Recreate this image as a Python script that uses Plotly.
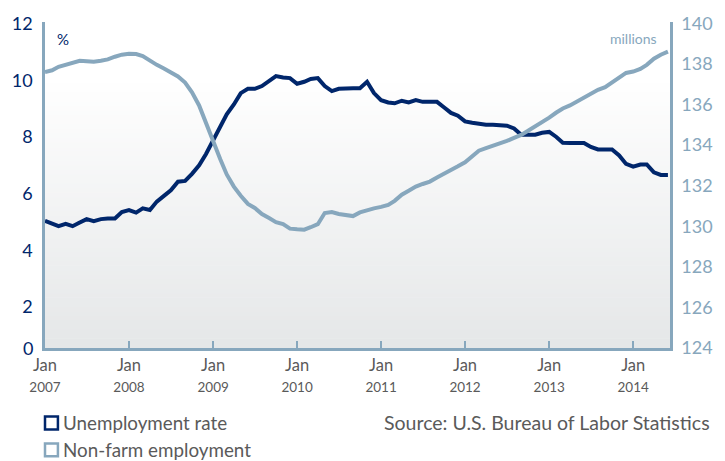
import pandas as pd
import plotly.graph_objects as go

# ---------------- data ----------------
months = pd.date_range("2007-01-01", periods=90, freq="MS")

unemployment_rate = [
    5.04, 4.95, 4.85, 4.93, 4.85, 4.98, 5.10, 5.03, 5.10, 5.12,
    5.12, 5.35, 5.42, 5.33, 5.48, 5.42, 5.72, 5.92, 6.12, 6.42,
    6.45, 6.70, 7.00, 7.40, 7.90, 8.40, 8.80, 9.15, 9.55, 9.70,
    9.70, 9.80, 9.98, 10.15, 10.10, 10.08, 9.88, 9.95, 10.05, 10.08,
    9.80, 9.62, 9.70, 9.72, 9.72, 9.72, 9.95, 9.55, 9.30, 9.22,
    9.19, 9.28, 9.22, 9.30, 9.24, 9.24, 9.24, 9.05, 8.85, 8.75,
    8.55, 8.50, 8.45, 8.43, 8.43, 8.43, 8.40, 8.30, 8.08, 8.08,
    8.08, 8.15, 8.18, 8.00, 7.80, 7.79, 7.79, 7.79, 7.65, 7.56,
    7.56, 7.56, 7.35, 7.05, 6.95, 7.03, 7.03, 6.75, 6.66, 6.66,
]

nonfarm_employment = [
    137.60, 137.68, 137.85, 137.95, 138.05, 138.15, 138.13, 138.10, 138.15, 138.22,
    138.35, 138.45, 138.50, 138.48, 138.38, 138.15, 137.95, 137.77, 137.60, 137.38,
    137.08, 136.60, 135.95, 135.05, 134.10, 133.30, 132.55, 131.95, 131.50, 131.10,
    130.90, 130.60, 130.40, 130.20, 130.10, 129.88, 129.85, 129.83, 129.95, 130.10,
    130.65, 130.70, 130.60, 130.55, 130.50, 130.68, 130.80, 130.88, 130.95, 131.05,
    131.25, 131.55, 131.75, 131.95, 132.08, 132.20, 132.40, 132.60, 132.78, 132.95,
    133.15, 133.45, 133.72, 133.85, 133.95, 134.05, 134.20, 134.35, 134.50, 134.70,
    134.90, 135.15, 135.35, 135.60, 135.80, 135.95, 136.15, 136.35, 136.55, 136.72,
    136.85, 137.10, 137.35, 137.55, 137.62, 137.75, 137.95, 138.25, 138.45, 138.60,
]

tick_years = ["2007", "2008", "2009", "2010", "2011", "2012", "2013", "2014"]
tick_month = "Jan"
left_ticks = [2, 4, 6, 8, 10, 12]
right_ticks = [124, 126, 128, 130, 132, 134, 136, 138, 140]

series_names = ["Unemployment rate", "Non-farm employment"]
source_text = "Source: U.S. Bureau of Labor Statistics"

# ---------------- style ----------------
NAVY = "#00266b"
STEEL = "#87a7bd"
GREY_TXT = "#5a5a5a"
FONT = "Lato"

fig = go.Figure()

fig.add_trace(go.Scatter(
    x=months, y=unemployment_rate, mode="lines", name=series_names[0],
    line=dict(color=NAVY, width=4), yaxis="y", showlegend=False,
))
fig.add_trace(go.Scatter(
    x=months, y=nonfarm_employment, mode="lines", name=series_names[1],
    line=dict(color=STEEL, width=4), yaxis="y2", showlegend=False,
))

# gradient background inside the plot area
shapes = []
n = 60
top_frac = 0.84
c0 = (229, 231, 232)
c1 = (255, 255, 255)
for k in range(n):
    t = k / (n - 1)
    r = round(c0[0] + (c1[0] - c0[0]) * t)
    g = round(c0[1] + (c1[1] - c0[1]) * t)
    b = round(c0[2] + (c1[2] - c0[2]) * t)
    shapes.append(dict(
        type="rect", xref="paper", yref="paper",
        x0=0, x1=1, y0=top_frac * k / n, y1=top_frac * (k + 1) / n + 0.002,
        fillcolor=f"rgb({r},{g},{b})", line=dict(width=0), layer="below",
    ))

# legend squares
shapes.append(dict(type="rect", xref="paper", yref="paper",
                   x0=(43 - 43) / 629, x1=(56 - 43) / 629,
                   y0=(348 - 430) / 328, y1=(348 - 417) / 328,
                   line=dict(color=NAVY, width=2.5), fillcolor="white"))
shapes.append(dict(type="rect", xref="paper", yref="paper",
                   x0=(43 - 43) / 629, x1=(56 - 43) / 629,
                   y0=(348 - 457) / 328, y1=(348 - 444) / 328,
                   line=dict(color=STEEL, width=2.5), fillcolor="white"))

ticktext = [f"{tick_month}<br><span style='font-size:13.5px'>{y}</span>" for y in tick_years]
tickvals = [f"{y}-01-01" for y in tick_years]

fig.update_layout(
    width=725, height=461, autosize=False,
    margin=dict(l=43, r=53, t=20, b=113),
    paper_bgcolor="white", plot_bgcolor="rgba(0,0,0,0)",
    font=dict(family=FONT, color=GREY_TXT),
    shapes=shapes,
    xaxis=dict(
        type="date", range=["2007-01-01", "2014-06-10"],
        tickvals=tickvals, ticktext=ticktext,
        tickfont=dict(family=FONT, size=16.5, color=GREY_TXT),
        ticks="inside", ticklen=7, tickwidth=2, tickcolor=STEEL,
        showline=True, linecolor=STEEL, linewidth=2.5,
        showgrid=False, zeroline=False, fixedrange=True,
    ),
    yaxis=dict(
        range=[0.55, 12.06], tickvals=left_ticks,
        tickfont=dict(family=FONT, size=18, color=NAVY),
        showline=True, linecolor=STEEL, linewidth=2.5,
        showgrid=False, zeroline=False, ticks="", ticklabelstandoff=6,
    ),
    yaxis2=dict(
        range=[124.0, 140.06], tickvals=right_ticks, overlaying="y", side="right",
        tickfont=dict(family=FONT, size=18, color=STEEL),
        showline=True, linecolor=STEEL, linewidth=2.5,
        showgrid=False, zeroline=False, ticks="", ticklabelstandoff=5,
    ),
    annotations=[
        dict(text="0", xref="paper", yref="paper", x=-0.016, y=0, xanchor="right",
             yanchor="middle", showarrow=False, font=dict(family=FONT, size=18, color=NAVY)),
        dict(text="%", xref="paper", yref="paper", x=(53 - 43) / 629, y=(348 - 37) / 328,
             xanchor="left", yanchor="middle", showarrow=False,
             font=dict(family=FONT, size=15, color=NAVY)),
        dict(text="millions", xref="paper", yref="paper", x=(661 - 43) / 629, y=(348 - 37) / 328,
             xanchor="right", yanchor="middle", showarrow=False,
             font=dict(family=FONT, size=14, color=STEEL)),
        dict(text=series_names[0], xref="paper", yref="paper", x=(59 - 43) / 629,
             y=(348 - 423) / 328, xanchor="left", yanchor="middle", showarrow=False,
             font=dict(family=FONT, size=18.8, color=GREY_TXT)),
        dict(text=series_names[1], xref="paper", yref="paper", x=(59 - 43) / 629,
             y=(348 - 450) / 328, xanchor="left", yanchor="middle", showarrow=False,
             font=dict(family=FONT, size=18.8, color=GREY_TXT)),
        dict(text=source_text, xref="paper", yref="paper", x=(714 - 43) / 629,
             y=(348 - 423) / 328, xanchor="right", yanchor="middle", showarrow=False,
             font=dict(family=FONT, size=19.5, color=GREY_TXT)),
    ],
)

fig.write_html("out.html")
